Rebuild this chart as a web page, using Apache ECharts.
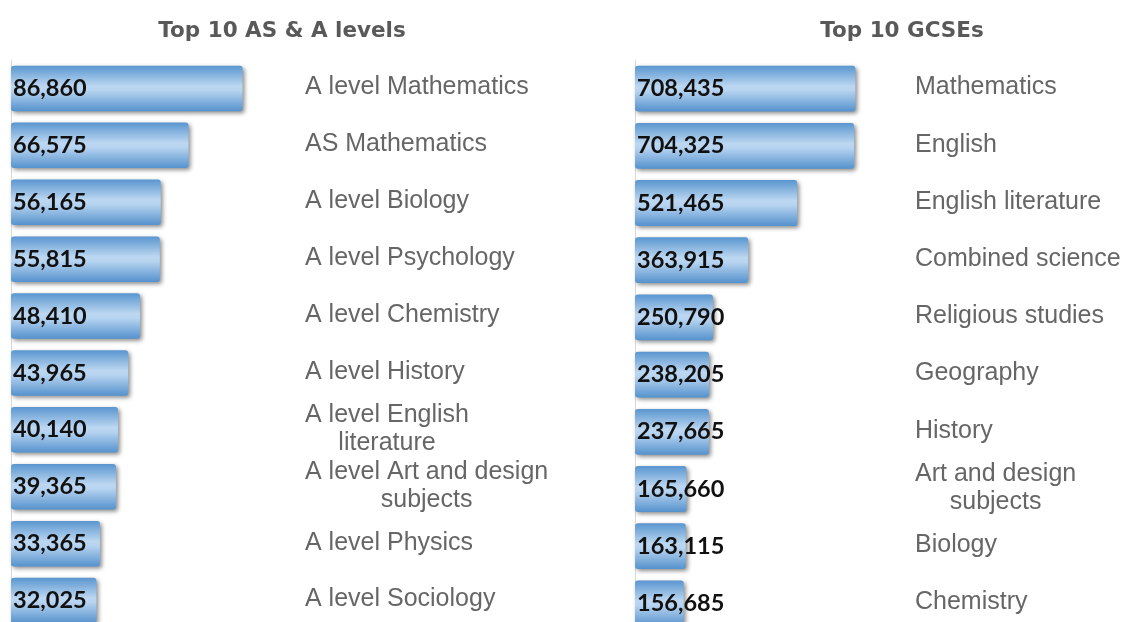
<!DOCTYPE html>
<html>
<head>
<meta charset="utf-8">
<script src="https://cdn.jsdelivr.net/npm/echarts@6/dist/echarts.min.js"></script>
<style>
html,body{margin:0;padding:0;background:#fff;}
#chart{width:1124px;height:622px;}
</style>
</head>
<body>
<div id="chart"></div>
<script>
const titleLeft = 'Top 10 AS & A levels';
const titleRight = 'Top 10 GCSEs';

const aLevelSubjects = ['A level Mathematics','AS Mathematics','A level Biology','A level Psychology','A level Chemistry','A level History','A level English literature','A level Art and design subjects','A level Physics','A level Sociology'];
const aLevelEntries = [86860, 66575, 56165, 55815, 48410, 43965, 40140, 39365, 33365, 32025];

const gcseSubjects = ['Mathematics','English','English literature','Combined science','Religious studies','Geography','History','Art and design subjects','Biology','Chemistry'];
const gcseEntries = [708435, 704325, 521465, 363915, 250790, 238205, 237665, 165660, 163115, 156685];

function wrap(text, limit) {
  if (text.length <= limit) return [text];
  let idx = text.lastIndexOf(' ', limit);
  if (idx <= 0) return [text];
  return [text.slice(0, idx), text.slice(idx + 1)];
}
function labelFormatter(limit) {
  return function (v) {
    return wrap(v, limit).map(l => '{c|' + l + '}').join('\n');
  };
}
function fmt(n) { return n.toLocaleString('en-US'); }

const barStyle = {
  color: {
    type: 'linear', x: 0, y: 0, x2: 0, y2: 1,
    colorStops: [
      {offset: 0, color: '#5a96d0'},
      {offset: 0.45, color: '#bcd7f1'},
      {offset: 0.55, color: '#b6d3f0'},
      {offset: 1, color: '#5592cd'}
    ]
  },
  borderRadius: 3,
  shadowBlur: 4,
  shadowColor: 'rgba(0,0,0,0.45)',
  shadowOffsetX: 2,
  shadowOffsetY: 2
};

const valueLabel = {
  show: true,
  position: 'insideLeft',
  distance: 2,
  color: '#111',
  fontFamily: 'Lato',
  fontWeight: 'bold',
  fontSize: 23.5,
  formatter: p => fmt(p.value)
};

function catAxis(gridIndex, data, margin, limit) {
  return {
    type: 'category', gridIndex: gridIndex, data: data, inverse: true,
    axisLine: {show: true, lineStyle: {color: '#d9d9d9', width: 1}},
    axisTick: {show: false},
    axisLabel: {
      inside: true, margin: margin, align: 'left',
      padding: [0, 0, 2, 0],
      formatter: labelFormatter(limit),
      rich: {c: {align: 'center', fontFamily: '"Liberation Sans"', fontSize: 25, color: '#666', lineHeight: 28}}
    }
  };
}

const titleStyle = {fontFamily: '"DejaVu Sans"', fontWeight: 'bold', fontSize: 21.5, color: '#595959'};

const option = {
  animation: false,
  backgroundColor: '#fff',
  title: [
    {text: titleLeft, left: 277, top: 15, textAlign: 'center', textStyle: titleStyle},
    {text: titleRight, left: 897, top: 15, textAlign: 'center', textStyle: titleStyle}
  ],
  grid: [
    {left: 11, top: 60, width: 280, height: 569, outerBoundsMode: 'none'},
    {left: 635, top: 60, width: 280, height: 572, outerBoundsMode: 'none'}
  ],
  xAxis: [
    {type: 'value', gridIndex: 0, min: 0, max: 105000, show: false},
    {type: 'value', gridIndex: 1, min: 0, max: 900000, show: false}
  ],
  yAxis: [
    catAxis(0, aLevelSubjects, 294, 22),
    catAxis(1, gcseSubjects, 280, 20)
  ],
  series: [
    {type: 'bar', xAxisIndex: 0, yAxisIndex: 0, data: aLevelEntries, barCategoryGap: '20%', itemStyle: barStyle, label: valueLabel},
    {type: 'bar', xAxisIndex: 1, yAxisIndex: 1, data: gcseEntries, barCategoryGap: '20%', itemStyle: barStyle, label: valueLabel}
  ]
};

const chart = echarts.init(document.getElementById('chart'), null, {renderer: 'canvas'});
chart.setOption(option);
</script>
</body>
</html>
